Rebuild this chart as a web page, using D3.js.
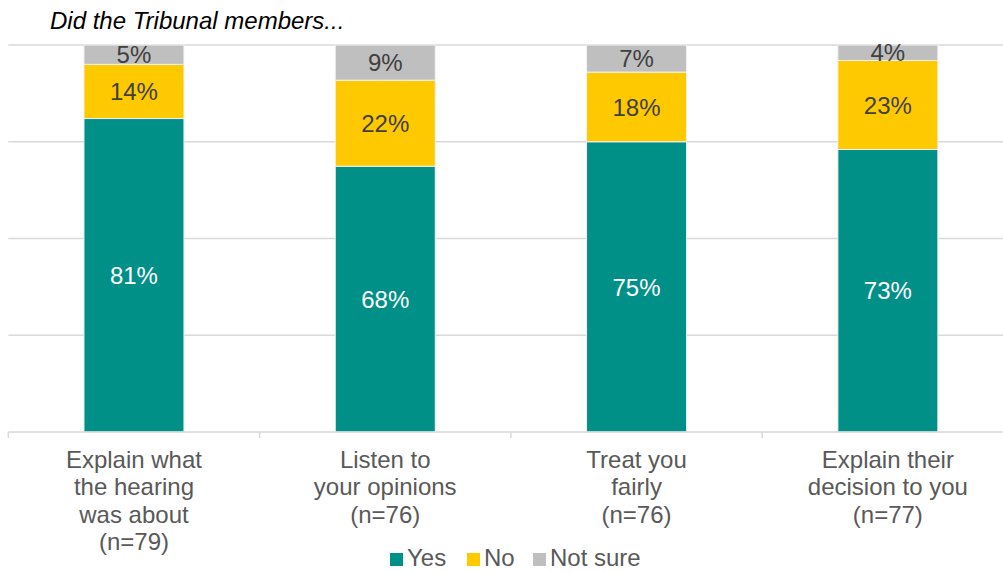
<!DOCTYPE html>
<html>
<head>
<meta charset="utf-8">
<script src="https://cdn.jsdelivr.net/npm/d3@7"></script>
<style>
  html, body { margin: 0; padding: 0; background: #fff; }
  svg { display: block; font-family: "Liberation Sans", Arial, sans-serif; }
</style>
</head>
<body>
<svg id="chart" width="1003" height="572"></svg>
<script>
// Survey answers per question (percent of respondents)
const categories = [
  ["Explain what", "the hearing", "was about", "(n=79)"],
  ["Listen to", "your opinions", "(n=76)"],
  ["Treat you", "fairly", "(n=76)"],
  ["Explain their", "decision to you", "(n=77)"]
];
const seriesNames = ["Yes", "No", "Not sure"];
const yesValues = [81, 68, 75, 73];
const noValues = [14, 22, 18, 23];
const notSureValues = [5, 9, 7, 4];
const colors = ["#009088", "#FFC900", "#BFBFBF"];
const labelColors = ["#ffffff", "#404040", "#404040"];
const gridTicks = [0, 0.25, 0.5, 0.75, 1];

const svg = d3.select("#chart");
const W = 1003;
const plotLeft = 8.3, plotRight = 1013.5;   // plot area runs slightly past the right edge
const plotTop = 45, plotBottom = 432;
const fontSize = 24;

// Rows for the stack, each bar scaled to a full 100%
const rows = categories.map((c, i) => {
  const vals = [yesValues[i], noValues[i], notSureValues[i]];
  const total = d3.sum(vals);
  const r = { idx: i, raw: vals };
  seriesNames.forEach((s, k) => r[s] = vals[k] / total);
  return r;
});

const layers = d3.stack().keys(seriesNames)(rows);

const x = d3.scaleBand()
  .domain(d3.range(categories.length))
  .range([plotLeft, plotRight])
  .paddingInner(0)
  .paddingOuter(0);
const barW = 100;

const y = d3.scaleLinear().domain([0, 1]).range([plotBottom, plotTop]);

// Horizontal gridlines
svg.append("g").selectAll("line")
  .data(gridTicks.filter(t => t > 0))
  .join("line")
  .attr("x1", plotLeft).attr("x2", W)
  .attr("y1", d => y(d)).attr("y2", d => y(d))
  .attr("stroke", "#d9d9d9").attr("stroke-width", 1.5);

// Stacked bars
const layerG = svg.append("g").selectAll("g")
  .data(layers)
  .join("g")
  .attr("fill", (d, i) => colors[i]);

layerG.selectAll("rect")
  .data(d => d)
  .join("rect")
  .attr("x", d => x(d.data.idx) + (x.bandwidth() - barW) / 2)
  .attr("width", barW)
  .attr("y", d => y(d[1]))
  .attr("height", d => y(d[0]) - y(d[1]))
  .attr("stroke", "#f2f2f2")
  .attr("stroke-width", 1);

// Value labels inside segments
layers.forEach((layer, k) => {
  svg.append("g").selectAll("text")
    .data(layer)
    .join("text")
    .attr("x", d => x(d.data.idx) + x.bandwidth() / 2)
    .attr("y", d => (y(d[0]) + y(d[1])) / 2)
    .attr("dy", "0.36em")
    .attr("text-anchor", "middle")
    .attr("font-size", fontSize)
    .attr("fill", labelColors[k])
    .text(d => d.data.raw[k] + "%");
});

// Category axis
const axisG = svg.append("g");
axisG.append("line")
  .attr("x1", plotLeft).attr("x2", W)
  .attr("y1", plotBottom).attr("y2", plotBottom)
  .attr("stroke", "#d9d9d9").attr("stroke-width", 1.5);
const tickXs = d3.range(categories.length).map(i => x(i));
axisG.selectAll("line.tick")
  .data(tickXs)
  .join("line")
  .attr("class", "tick")
  .attr("x1", d => d).attr("x2", d => d)
  .attr("y1", plotBottom).attr("y2", plotBottom + 6)
  .attr("stroke", "#d9d9d9").attr("stroke-width", 1.5);

const catText = axisG.selectAll("text.cat")
  .data(categories)
  .join("text")
  .attr("class", "cat")
  .attr("text-anchor", "middle")
  .attr("font-size", fontSize)
  .attr("fill", "#595959");
catText.selectAll("tspan")
  .data((d, i) => d.map(line => ({ line, i })))
  .join("tspan")
  .attr("x", d => x(d.i) + x.bandwidth() / 2)
  .attr("y", (d, j) => 468 + j * 27.3)
  .text(d => d.line);

// Title
svg.append("text")
  .attr("x", 50).attr("y", 28.5)
  .attr("font-size", fontSize)
  .attr("font-style", "italic")
  .attr("fill", "#000")
  .text("Did the Tribunal members...");

// Legend
const legendItems = [
  { name: seriesNames[0], x: 390 },
  { name: seriesNames[1], x: 467 },
  { name: seriesNames[2], x: 533 }
];
const legG = svg.append("g");
legendItems.forEach((it, k) => {
  legG.append("rect")
    .attr("x", it.x).attr("y", 553)
    .attr("width", 13).attr("height", 13)
    .attr("fill", colors[k]);
  legG.append("text")
    .attr("x", it.x + 17).attr("y", 566)
    .attr("font-size", fontSize)
    .attr("fill", "#595959")
    .text(it.name);
});
</script>
</body>
</html>
